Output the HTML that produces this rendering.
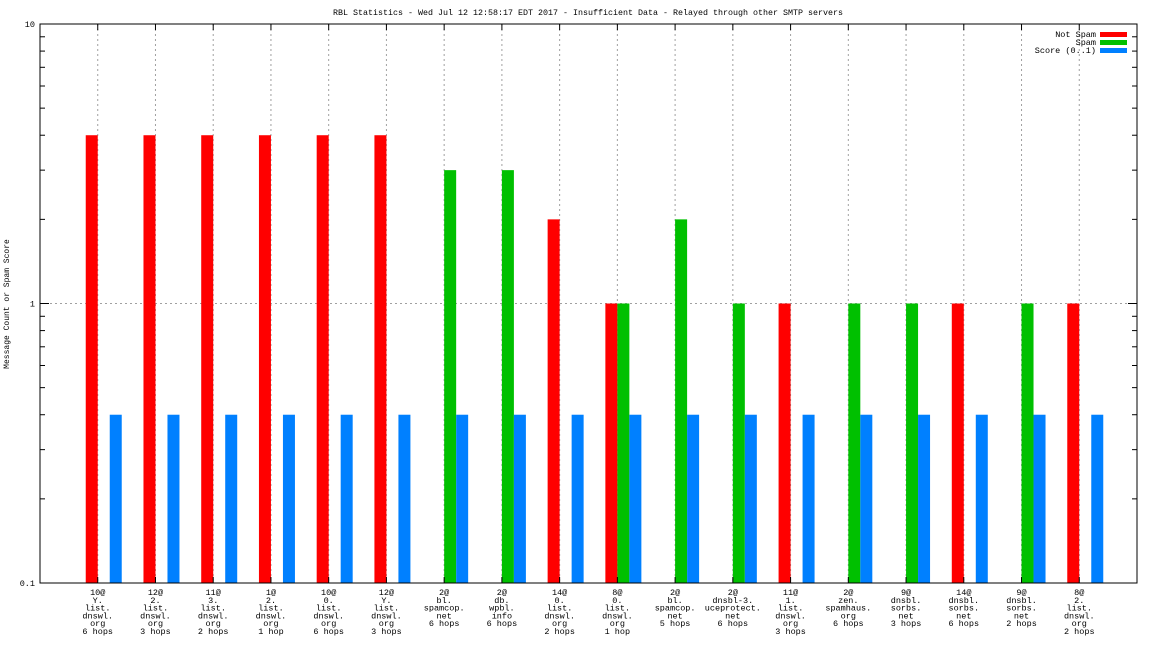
<!DOCTYPE html>
<html><head><meta charset="utf-8"><style>
html,body{margin:0;padding:0;background:#fff;}
svg{display:block;font-family:"Liberation Mono","DejaVu Sans Mono",monospace;}
</style></head><body>
<svg id="chart" width="1152" height="648" viewBox="0 0 1152 648">
<rect x="0" y="0" width="1152" height="648" fill="#fff"/>
<text x="588" y="15" font-size="8.4" text-anchor="middle" textLength="510" lengthAdjust="spacingAndGlyphs">RBL Statistics - Wed Jul 12 12:58:17 EDT 2017 - Insufficient Data - Relayed through other SMTP servers</text>
<text transform="translate(9,304) rotate(-90)" font-size="8" text-anchor="middle">Message Count or Spam Score</text>
<g id="grid"></g>
<g id="bars"></g>
<g id="axes"></g>
<g id="xlabels"></g>
<g id="legend"></g>
</svg>
<script>
const categories = [
 ["10@","Y.","list.","dnswl.","org","6 hops"],
 ["12@","2.","list.","dnswl.","org","3 hops"],
 ["11@","3.","list.","dnswl.","org","2 hops"],
 ["1@","2.","list.","dnswl.","org","1 hop"],
 ["10@","0.","list.","dnswl.","org","6 hops"],
 ["12@","Y.","list.","dnswl.","org","3 hops"],
 ["2@","bl.","spamcop.","net","6 hops"],
 ["2@","db.","wpbl.","info","6 hops"],
 ["14@","0.","list.","dnswl.","org","2 hops"],
 ["8@","0.","list.","dnswl.","org","1 hop"],
 ["2@","bl.","spamcop.","net","5 hops"],
 ["2@","dnsbl-3.","uceprotect.","net","6 hops"],
 ["11@","1.","list.","dnswl.","org","3 hops"],
 ["2@","zen.","spamhaus.","org","6 hops"],
 ["9@","dnsbl.","sorbs.","net","3 hops"],
 ["14@","dnsbl.","sorbs.","net","6 hops"],
 ["9@","dnsbl.","sorbs.","net","2 hops"],
 ["8@","2.","list.","dnswl.","org","2 hops"]
];
const notSpam = [4,4,4,4,4,4,0,0,2,1,0,0,1,0,0,1,0,1];
const spam    = [0,0,0,0,0,0,3,3,0,1,2,1,0,1,1,0,1,0];
const score   = [0.4,0.4,0.4,0.4,0.4,0.4,0.4,0.4,0.4,0.4,0.4,0.4,0.4,0.4,0.4,0.4,0.4,0.4];
const yTickValues = [0.1,1,10];
const yTickLabels = ["0.1","1","10"];
const seriesNames = ["Not Spam","Spam","Score (0..1)"];

const NS="http://www.w3.org/2000/svg";
const L=40,R=1137,T=24,B=583;
const yMin=0.1,yMax=10;
function y(v){return B-(Math.log10(v)-Math.log10(yMin))/(Math.log10(yMax)-Math.log10(yMin))*(B-T);}
const step=(R-L)/(categories.length+1);
function xc(i){return L+(i+1)*step;}
function mk(tag,attrs,parent){const e=document.createElementNS(NS,tag);for(const k in attrs)e.setAttribute(k,attrs[k]);parent.appendChild(e);return e;}
const grid=document.getElementById('grid'),bars=document.getElementById('bars'),axes=document.getElementById('axes'),xl=document.getElementById('xlabels'),lg=document.getElementById('legend');

// vertical grid at category centers
categories.forEach((c,i)=>{
 const g=mk('line',{x1:xc(i),x2:xc(i),y1:T,y2:B,stroke:'#a0a0a0','stroke-dasharray':'2,3','stroke-width':1},grid);
 
 
});
// horizontal grid at y=1
const hg=mk('line',{x1:L,x2:R,y1:y(1),y2:y(1),stroke:'#a0a0a0','stroke-dasharray':'2,3','stroke-width':1},grid);



const colors=['#ff0000','#00c000','#0080ff'];
const series=[notSpam,spam,score];
const bw=12;
series.forEach((s,si)=>{
 s.forEach((v,i)=>{
  if(!(v>0))return;
  const x0=xc(i)-bw+si*bw;
  const top=Math.max(y(v),T);
  const r=mk('rect',{x:x0,y:top,width:bw,height:B-top,fill:colors[si]},bars);
  
  
 });
});

// axes frame
const fr=mk('rect',{x:L,y:T,width:R-L,height:B-T,fill:'none',stroke:'#000','stroke-width':1},axes);


// y ticks
for(let d=-1;d<1;d++){
 for(let m=1;m<10;m++){
  const v=m*Math.pow(10,d);
  const len=m===1?9:5;
  mk('line',{x1:L,x2:L+len,y1:y(v),y2:y(v),stroke:'#000'},axes);
  mk('line',{x1:R,x2:R-len,y1:y(v),y2:y(v),stroke:'#000'},axes);
 }
}
yTickValues.forEach((v,i)=>{
 const t=mk('text',{x:L-5,y:y(v)+3,'font-size':8.5,'text-anchor':'end'},axes);
 t.textContent=yTickLabels[i];
 
 
});
// x ticks and labels
categories.forEach((c,i)=>{
 mk('line',{x1:xc(i),x2:xc(i),y1:T,y2:T+6,stroke:'#000'},axes);
 mk('line',{x1:xc(i),x2:xc(i),y1:B,y2:B-6,stroke:'#000'},axes);
 const t=mk('text',{x:xc(i),y:595,'font-size':8.5,'text-anchor':'middle'},xl);
 
 
 c.forEach((line,k)=>{
  const ts=mk('tspan',{x:xc(i),y:595+k*7.8},t);
  ts.textContent=line;
 });
});
// legend
seriesNames.forEach((n,i)=>{
 const yy=37+i*8;
 const t=mk('text',{x:1096,y:yy,'font-size':8.5,'text-anchor':'end'},lg);
 t.textContent=n;
 
 
 const r=mk('rect',{x:1100,y:yy-5,width:27,height:5,fill:colors[i]},lg);
 
 
});
</script>
</body></html>
